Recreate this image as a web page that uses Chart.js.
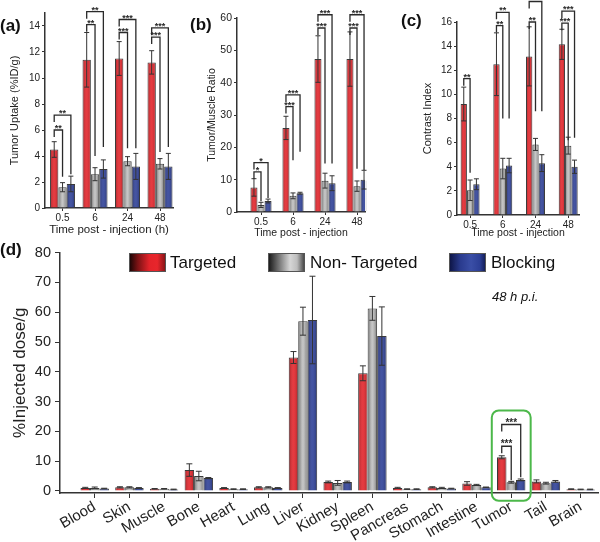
<!DOCTYPE html>
<html lang="en">
<head>
  <meta charset="UTF-8" />
  <title>Tumor uptake and biodistribution</title>
  <style>
    body { margin: 0; background: #fff; font-family: "Liberation Sans", Arial, sans-serif; }
    #wrap { position: relative; width: 600px; height: 542px; overflow: hidden; }
    canvas { position: absolute; }
    .tag { position: absolute; font-weight: bold; font-size: 17px; line-height: 20px; color: #111; }
    .key { position: absolute; font-size: 17px; line-height: 20px; color: #111; white-space: nowrap; }
    .sw { position: absolute; width: 37px; height: 19px; border: 1px solid #555; box-sizing: border-box; }
    .note { position: absolute; font-size: 13px; font-style: italic; color: #111; }
  </style>
  <script src="https://cdn.jsdelivr.net/npm/chart.js"></script>
</head>
<body>
<div id="wrap">
  <canvas id="chartA" width="185" height="242" style="left:0;top:0"></canvas>
  <canvas id="chartB" width="175" height="242" style="left:200px;top:0"></canvas>
  <canvas id="chartC" width="190" height="242" style="left:410px;top:0"></canvas>
  <canvas id="chartD" width="600" height="302" style="left:0;top:240px"></canvas>

  <div class="tag" style="left:0;top:16px">(a)</div>
  <div class="tag" style="left:190px;top:15px">(b)</div>
  <div class="tag" style="left:401px;top:11px">(c)</div>
  <div class="tag" style="left:0;top:240px">(d)</div>

  <div class="sw" style="left:129px;top:253px;background:linear-gradient(to right,#1e0606 0%,#7a1214 22%,#e3232a 55%,#e8262c 78%,#8a1518 100%)"></div>
  <div class="key" style="left:170px;top:253px">Targeted</div>
  <div class="sw" style="left:268px;top:253px;background:linear-gradient(to right,#1c1c1c 0%,#6a6a6a 25%,#d6d6d6 60%,#bdbdbd 80%,#4a4a4a 100%)"></div>
  <div class="key" style="left:310px;top:253px">Non- Targeted</div>
  <div class="sw" style="left:449px;top:253px;background:linear-gradient(to right,#0e1648 0%,#2a3b8e 30%,#3a4ea6 60%,#2c3f96 85%,#141f5a 100%)"></div>
  <div class="key" style="left:491px;top:253px">Blocking</div>
  <div class="note" style="left:492px;top:289px">48 h p.i.</div>
</div>

<script>
  Chart.defaults.font.family = '"Liberation Sans", Arial, sans-serif';

  const seriesNames = ['Targeted', 'Non- Targeted', 'Blocking'];
  const seriesColors = ['#e3252b', '#b9b9b9', '#2d3f97'];
  const seriesShade = [0.28, 0.5, 0.3];

  const timeLabels = ['0.5', '6', '24', '48'];

  // (a) tumor uptake %ID/g
  const aTargeted = [4.5, 11.4, 11.5, 11.2];
  const aTargetedErr = [0.6, 2.1, 1.3, 0.9];
  const aNonTargeted = [1.6, 2.6, 3.6, 3.4];
  const aNonTargetedErr = [0.35, 0.5, 0.35, 0.4];
  const aBlocking = [1.85, 3.0, 3.2, 3.2];
  const aBlockingErr = [0.6, 0.7, 1.0, 1.0];

  // (b) tumor/muscle ratio
  const bTargeted = [7.6, 26.0, 47.3, 47.3];
  const bTargetedErr = [2.7, 3.6, 7.2, 8.4];
  const bNonTargeted = [2.2, 5.0, 9.7, 8.0];
  const bNonTargetedErr = [0.8, 0.9, 2.3, 1.6];
  const bBlocking = [3.4, 5.8, 8.9, 10.0];
  const bBlockingErr = [0.6, 0.3, 2.3, 2.9];

  // (c) contrast index
  const cTargeted = [9.2, 12.5, 13.15, 14.15];
  const cTargetedErr = [1.4, 2.6, 2.45, 1.25];
  const cNonTargeted = [2.05, 3.85, 5.85, 5.75];
  const cNonTargetedErr = [0.85, 0.85, 0.5, 0.7];
  const cBlocking = [2.55, 4.1, 4.3, 4.0];
  const cBlockingErr = [0.45, 0.6, 0.7, 0.55];

  // (d) biodistribution at 48 h
  const organs = ['Blood', 'Skin', 'Muscle', 'Bone', 'Heart', 'Lung', 'Liver', 'Kidney',
                  'Spleen', 'Pancreas', 'Stomach', 'Intestine', 'Tumor', 'Tail', 'Brain'];
  const dTargeted = [1.0, 1.2, 0.7, 7.0, 1.0, 1.2, 44.8, 3.0, 39.5, 1.0, 1.2, 2.5, 11.3, 3.2, 0.6];
  const dTargetedErr = [0.2, 0.2, 0.1, 2.1, 0.1, 0.2, 2.0, 0.3, 2.5, 0.2, 0.2, 0.6, 0.5, 0.5, 0.1];
  const dNonTargeted = [1.0, 1.2, 0.7, 5.0, 0.6, 1.2, 57.0, 2.7, 61.3, 0.6, 1.0, 2.0, 2.9, 2.6, 0.5];
  const dNonTargetedErr = [0.3, 0.2, 0.1, 1.6, 0.1, 0.2, 4.7, 0.8, 4.0, 0.1, 0.2, 0.2, 0.3, 0.3, 0.1];
  const dBlocking = [0.8, 1.0, 0.5, 4.3, 0.6, 1.0, 57.4, 3.0, 52.0, 0.6, 0.8, 1.2, 3.7, 3.2, 0.5];
  const dBlockingErr = [0.1, 0.1, 0.1, 0.2, 0.1, 0.1, 14.7, 0.3, 9.8, 0.1, 0.1, 0.1, 0.3, 0.3, 0.1];

  // significance brackets: [category, compared series, bracket level, right leg end, stars]
  const aBrackets = [
    [0, 1, 6.0, 2.4, '**'], [0, 2, 7.15, 2.6, '**'],
    [1, 1, 14.1, 4.0, '**'], [1, 2, 15.1, 4.7, '**'],
    [2, 1, 13.5, 4.6, '***'], [2, 2, 14.5, 4.6, '***'],
    [3, 1, 13.15, 4.3, '***'], [3, 2, 13.85, 4.7, '***'],
  ];
  const bBrackets = [
    [0, 1, 12.4, 3.3, '*'], [0, 2, 15.3, 4.3, '*'],
    [1, 1, 32.6, 16, '***'], [1, 2, 36.2, 18.6, '***'],
    [2, 1, 56.9, 15, '***'], [2, 2, 61, 15, '***'],
    [3, 1, 56.9, 13.4, '***'], [3, 2, 61, 13, '***'],
  ];
  const cBrackets = [
    [0, 1, 11.3, 3.5, '**'],
    [1, 1, 15.7, 8.0, '**'], [1, 2, 16.8, 8.0, '**'],
    [2, 1, 16.0, 8.6, '**'], [2, 2, 17.7, 8.6, '**'],
    [3, 1, 15.9, 6.2, '***'], [3, 2, 16.9, 6.4, '***'],
  ];
  const dBrackets = [
    [12, 1, 15.0, 3.6, '***'], [12, 2, 22.3, 4.6, '***'],
  ];

  // shading, error bars, brackets, highlight box
  const barDecor = {
    id: 'barDecor',
    afterDatasetsDraw(chart, args, opts) {
      const ctx = chart.ctx;
      const ys = chart.scales.y;
      const xs = chart.scales.x;
      ctx.save();
      chart.data.datasets.forEach((ds, di) => {
        const meta = chart.getDatasetMeta(di);
        const s = seriesShade[di];
        meta.data.forEach((el, i) => {
          const l = el.x - el.width / 2;
          const h = el.base - el.y;
          if (h > 2) {
            const g = ctx.createLinearGradient(l, 0, l + el.width, 0);
            g.addColorStop(0, `rgba(0,0,0,${s})`);
            g.addColorStop(0.5, `rgba(255,255,255,${s * 0.35})`);
            g.addColorStop(1, `rgba(0,0,0,${s * 0.8})`);
            ctx.fillStyle = g;
            ctx.fillRect(l + 1, el.y + 1, el.width - 2, h - 1.5);
          }
          const v = ds.data[i].y, e = ds.errors[i];
          const yt = ys.getPixelForValue(v + e), yb = ys.getPixelForValue(v - e);
          const c = opts.cap;
          ctx.strokeStyle = '#333';
          ctx.lineWidth = 1;
          ctx.beginPath();
          ctx.moveTo(el.x, yt); ctx.lineTo(el.x, yb);
          ctx.moveTo(el.x - c, yt); ctx.lineTo(el.x + c, yt);
          ctx.moveTo(el.x - c, yb); ctx.lineTo(el.x + c, yb);
          ctx.stroke();
        });
      });
      ctx.strokeStyle = '#2a2a2a';
      ctx.fillStyle = '#2a2a2a';
      ctx.lineWidth = 1.3;
      ctx.font = `bold ${opts.starSize}px "Liberation Sans", Arial, sans-serif`;
      ctx.textAlign = 'center';
      ctx.textBaseline = 'alphabetic';
      (opts.brackets || []).forEach(([cat, target, level, legEnd, stars]) => {
        const from = chart.getDatasetMeta(0).data[cat];
        const to = chart.getDatasetMeta(target).data[cat];
        const yl = ys.getPixelForValue(level);
        ctx.beginPath();
        ctx.moveTo(from.x, yl + 7);
        ctx.lineTo(from.x, yl);
        ctx.lineTo(to.x, yl);
        ctx.lineTo(to.x, ys.getPixelForValue(legEnd));
        ctx.stroke();
        ctx.fillText(stars, (from.x + to.x) / 2, yl + 1);
      });
      if (opts.box) {
        const b = opts.box;
        const x0 = xs.getPixelForValue(b.x - b.half), x1 = xs.getPixelForValue(b.x + b.half);
        const y0 = ys.getPixelForValue(b.top), y1 = ys.getPixelForValue(b.bottom);
        ctx.strokeStyle = '#4cb84a';
        ctx.lineWidth = 2;
        ctx.beginPath();
        ctx.roundRect(x0, y0, x1 - x0, y1 - y0, 7);
        ctx.stroke();
      }
      ctx.restore();
    }
  };

  function panel(id, p) {
    return new Chart(document.getElementById(id), {
      type: 'bar',
      data: {
        datasets: seriesNames.map((name, k) => ({
          label: name,
          data: p.values[k].map((v, i) => ({ x: i + 1, y: v })),
          errors: p.errors[k],
          backgroundColor: seriesColors[k],
          borderColor: '#3a3a3a',
          borderWidth: 1,
          categoryPercentage: p.group,
          barPercentage: 1,
        })),
      },
      options: {
        responsive: false,
        animation: false,
        devicePixelRatio: 1,
        layout: { padding: p.padding },
        plugins: {
          legend: { display: false },
          tooltip: { enabled: false },
          barDecor: { brackets: p.brackets, box: p.box, cap: p.cap, starSize: p.starSize },
        },
        scales: {
          x: {
            type: 'linear', min: p.xMin, max: p.xMax, offset: false,
            afterBuildTicks: s => { s.ticks = p.labels.map((_, i) => ({ value: i + 1 })); },
            afterFit: s => { s.height = p.xHeight; },
            ticks: {
              autoSkip: false, minRotation: p.rot, maxRotation: p.rot, padding: p.xTickPad,
              color: '#222', font: { size: p.xTickSize },
              callback: v => p.labels[v - 1] ?? '',
            },
            grid: { display: true, drawOnChartArea: false, offset: false, tickLength: p.tickLen, color: '#333' },
            border: { color: '#333', width: 1.5 },
            title: {
              display: !!p.xTitle, text: p.xTitle, color: '#222',
              font: { size: p.xTitleSize }, padding: { top: 0, bottom: p.xTitlePad },
            },
          },
          y: {
            min: p.yMin, max: p.yMax,
            afterBuildTicks: s => {
              const t = [];
              for (let v = 0; v <= p.yMax + 1e-9; v += p.step) t.push({ value: v });
              s.ticks = t;
            },
            afterFit: s => { s.width = p.yWidth; },
            ticks: { stepSize: p.step, padding: p.yTickPad, color: '#222', font: { size: p.yTickSize } },
            grid: { display: true, drawOnChartArea: false, tickLength: p.tickLen, color: '#333' },
            border: { color: '#333', width: 1.5 },
            title: {
              display: true, text: p.yTitle, color: '#222',
              font: { size: p.yTitleSize }, padding: { top: p.yTitlePad, bottom: 0 },
            },
          },
        },
      },
      plugins: [barDecor],
    });
  }

  panel('chartA', {
    labels: timeLabels,
    values: [aTargeted, aNonTargeted, aBlocking],
    errors: [aTargetedErr, aNonTargetedErr, aBlockingErr],
    brackets: aBrackets, cap: 2.5, starSize: 9,
    group: 0.77, padding: { top: 13, right: 12, left: 0, bottom: 0 },
    xMin: 0.46, xMax: 4.4, xHeight: 34, rot: 0, xTickPad: 1, xTickSize: 10, tickLen: 3,
    xTitle: 'Time post - injection (h)', xTitleSize: 11.5, xTitlePad: 5,
    yMin: 0, yMax: 15, step: 2, yWidth: 45, yTickPad: 2, yTickSize: 10,
    yTitle: 'Tumor Uptake (%ID/g)', yTitleSize: 11, yTitlePad: 8,
  });

  panel('chartB', {
    labels: timeLabels,
    values: [bTargeted, bNonTargeted, bBlocking],
    errors: [bTargetedErr, bNonTargetedErr, bBlockingErr],
    brackets: bBrackets, cap: 2.5, starSize: 9,
    group: 0.66, padding: { top: 18, right: 10, left: 0, bottom: 0 },
    xMin: 0.25, xMax: 4.25, xHeight: 30, rot: 0, xTickPad: 1, xTickSize: 10, tickLen: 3,
    xTitle: 'Time post - injection', xTitleSize: 10.5, xTitlePad: 3,
    yMin: 0, yMax: 60, step: 10, yWidth: 37, yTickPad: 2, yTickSize: 10.5,
    yTitle: 'Tumor/Muscle Ratio', yTitleSize: 10.5, yTitlePad: 6,
  });

  panel('chartC', {
    labels: timeLabels,
    values: [cTargeted, cNonTargeted, cBlocking],
    errors: [cTargetedErr, cNonTargetedErr, cBlockingErr],
    brackets: cBrackets, cap: 2.5, starSize: 9,
    group: 0.58, padding: { top: 22, right: 21, left: 0, bottom: 0 },
    xMin: 0.6, xMax: 4.33, xHeight: 27, rot: 0, xTickPad: 1, xTickSize: 10, tickLen: 3,
    xTitle: 'Time post - injection', xTitleSize: 10.5, xTitlePad: 3,
    yMin: 0, yMax: 16, step: 2, yWidth: 47, yTickPad: 2, yTickSize: 10,
    yTitle: 'Contrast Index', yTitleSize: 11, yTitlePad: 11,
  });

  panel('chartD', {
    labels: organs,
    values: [dTargeted, dNonTargeted, dBlocking],
    errors: [dTargetedErr, dNonTargetedErr, dBlockingErr],
    brackets: dBrackets, cap: 3, starSize: 10,
    box: { x: 13, half: 0.56, top: 27, bottom: -3.3 },
    group: 0.82, padding: { top: 10, right: 2, left: 0, bottom: 0 },
    xMin: 0, xMax: 15.5, xHeight: 49, rot: 30, xTickPad: 0, xTickSize: 15, tickLen: 5,
    xTitle: '', xTitleSize: 12, xTitlePad: 0,
    yMin: -0.7, yMax: 80, step: 10, yWidth: 60, yTickPad: 4, yTickSize: 14.5,
    yTitle: '%Injected dose/g', yTitleSize: 17, yTitlePad: 10,
  });
</script>
</body>
</html>
